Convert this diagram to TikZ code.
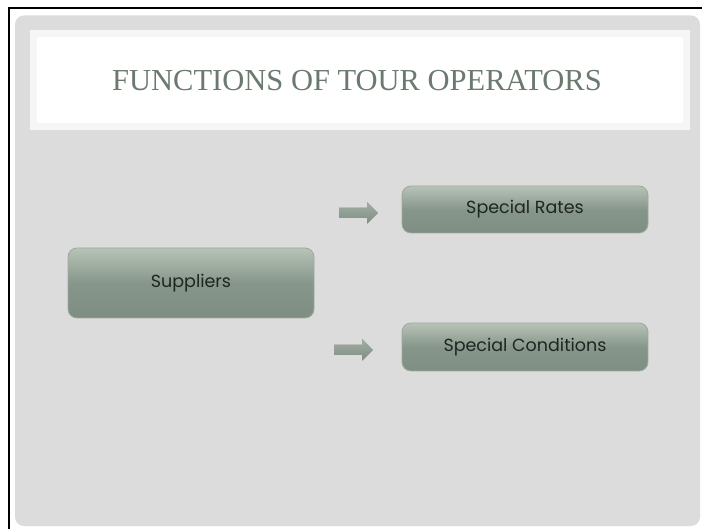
\documentclass[tikz,border=0pt]{standalone}
\usepackage{fontspec}
\setmainfont{Liberation Serif}
\newfontfamily\boxfont{Poppins}
\definecolor{panelgray}{HTML}{DCDCDC}
\definecolor{bandgray}{HTML}{F6F6F6}
\definecolor{titlegreen}{HTML}{6B7A6F}
\definecolor{boxtop}{HTML}{B8C3B8}
\definecolor{boxbot}{HTML}{7E8E82}
\definecolor{boxedge}{HTML}{9CAA9E}
\definecolor{boxtext}{HTML}{1E2620}
\tikzset{
  greenbox/.style={rounded corners=9pt, top color=boxtop, bottom color=boxbot,
    middle color=boxbot!85!boxtop, draw=boxedge, line width=0.8pt,
    font=\boxfont\fontsize{17.5}{19}\selectfont, text=boxtext, inner sep=0pt},
  greenarrow/.style={top color=boxtop!60!boxbot, bottom color=boxbot, draw=none}
}
\begin{document}
\begin{tikzpicture}[x=1pt,y=-1pt]
\useasboundingbox (0,0) rectangle (702,529);
\fill[white] (0,0) rectangle (702,529);
% black frame
\draw[black, line width=2pt] (8.5,535) -- (8.5,8) -- (710,8);
% panel
\fill[panelgray, rounded corners=9pt] (15,15.5) rectangle (700,526);
% title band
\fill[bandgray] (30,30) rectangle (690,130);
\fill[white] (37,37) rectangle (683,123);
\node[text=titlegreen, font=\fontsize{30.5}{34}\selectfont] (title) at (357,81) {FUNCTIONS OF TOUR OPERATORS};
% boxes
\node[greenbox, minimum width=246pt, minimum height=70pt] (sup) at (191,283) {Suppliers};
\node[greenbox, minimum width=246pt, minimum height=47pt] (rates) at (525,209.5) {Special Rates};
\node[greenbox, minimum width=246pt, minimum height=48pt] (cond) at (525,347) {Special Conditions};
% arrows
\fill[greenarrow] (339,208) -- (367,208) -- (367,202.5) -- (377.5,213) -- (367,223.5) -- (367,218) -- (339,218) -- cycle;
\fill[greenarrow] (334,345) -- (362,345) -- (362,339.5) -- (372.5,350) -- (362,360.5) -- (362,355) -- (334,355) -- cycle;
\end{tikzpicture}
\end{document}
